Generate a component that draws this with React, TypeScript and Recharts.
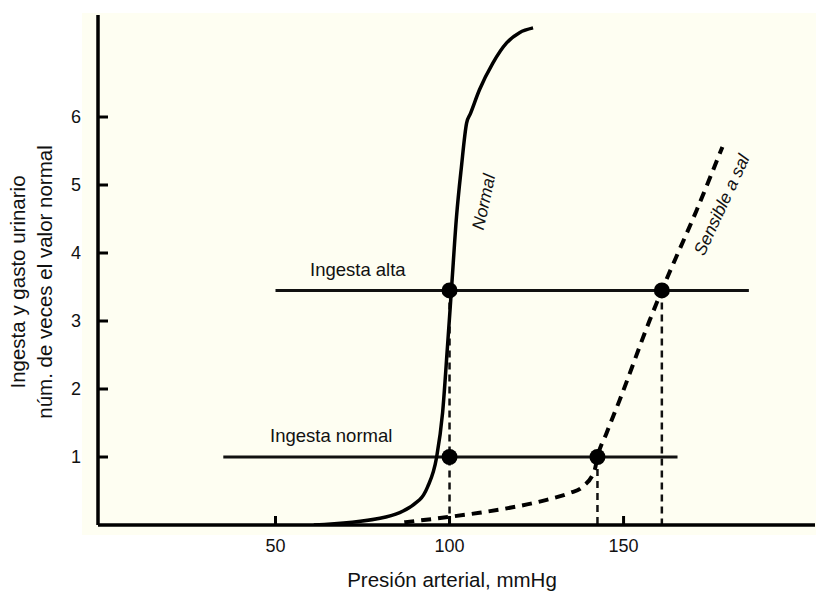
import { LineChart, Line, XAxis, YAxis, Scatter } from 'recharts';

// presión arterial (mmHg) vs ingesta / gasto urinario (veces el normal)
const normalCurve = [
  { x: 61, y: 0 },
  { x: 80, y: 0.1 },
  { x: 91.4, y: 0.37 },
  { x: 93.7, y: 0.56 },
  { x: 96.3, y: 1.0 },
  { x: 98, y: 1.65 },
  { x: 99.4, y: 2.62 },
  { x: 100.6, y: 3.5 },
  { x: 102, y: 4.53 },
  { x: 103.4, y: 5.26 },
  { x: 104.9, y: 5.91 },
  { x: 106, y: 6.05 },
  { x: 108.6, y: 6.4 },
  { x: 112.4, y: 6.79 },
  { x: 116.4, y: 7.09 },
  { x: 120.1, y: 7.24 },
  { x: 124, y: 7.31 },
];

const saltCurve = [
  { x: 87, y: 0.04 },
  { x: 100, y: 0.12 },
  { x: 108.6, y: 0.18 },
  { x: 118.1, y: 0.26 },
  { x: 127.9, y: 0.37 },
  { x: 134.5, y: 0.47 },
  { x: 138.2, y: 0.56 },
  { x: 141.7, y: 0.81 },
  { x: 142.5, y: 1.0 },
  { x: 145.1, y: 1.35 },
  { x: 148.9, y: 1.84 },
  { x: 157.5, y: 3.01 },
  { x: 161, y: 3.45 },
  { x: 171, y: 4.63 },
  { x: 178.4, y: 5.56 },
];

const highIntake = [
  { x: 50, y: 3.45 },
  { x: 186, y: 3.45 },
];

const normalIntake = [
  { x: 35, y: 1 },
  { x: 165.5, y: 1 },
];

const dropNormalHigh = [
  { x: 100, y: 3.45 },
  { x: 100, y: 0 },
];
const dropSaltNormal = [
  { x: 142.5, y: 1 },
  { x: 142.5, y: 0 },
];
const dropSaltHigh = [
  { x: 161, y: 3.45 },
  { x: 161, y: 0 },
];

const equilibriumPoints = [
  { x: 100, y: 3.45 },
  { x: 100, y: 1 },
  { x: 142.5, y: 1 },
  { x: 161, y: 3.45 },
];

const xTicks = [50, 100, 150];
const yTicks = [1, 2, 3, 4, 5, 6];

const font = 'Arial, "Liberation Sans", Helvetica, sans-serif';

const txt = (extra: React.CSSProperties): React.CSSProperties => ({
  position: 'absolute',
  fontFamily: font,
  fontSize: 18.5,
  color: '#111',
  whiteSpace: 'nowrap',
  ...extra,
});

export default function App() {
  return (
    <div style={{ position: 'absolute', left: 0, top: 0, width: 816, height: 594, background: '#fff', overflow: 'hidden' }}>
      <div style={{ position: 'absolute', left: 82, top: 13, width: 734, height: 522, background: '#fefef2' }} />
      <LineChart
        width={816}
        height={594}
        margin={{ top: 15, right: 1, bottom: 39, left: 0 }}
        style={{ position: 'absolute', left: 0, top: 0 }}
      >
        <XAxis
          type="number"
          dataKey="x"
          domain={[-1, 205]}
          ticks={xTicks}
          allowDataOverflow
          height={30}
          stroke="#000"
          axisLine={{ stroke: '#000', strokeWidth: 3.5 }}
          tickLine={{ stroke: '#000', strokeWidth: 3 }}
          tickSize={-9}
          tickMargin={23}
          tick={{ fill: '#111', fontSize: 18, fontFamily: font }}
        />
        <YAxis
          type="number"
          dataKey="y"
          domain={[0, 7.5]}
          ticks={yTicks}
          allowDataOverflow
          width={98}
          axisLine={{ stroke: '#000', strokeWidth: 3.5 }}
          tickLine={{ stroke: '#000', strokeWidth: 3 }}
          tickSize={-10}
          tickMargin={27}
          tick={{ fill: '#111', fontSize: 18, fontFamily: font }}
        />
        <Line data={highIntake} dataKey="y" stroke="#111" strokeWidth={3} dot={false} isAnimationActive={false} />
        <Line data={normalIntake} dataKey="y" stroke="#111" strokeWidth={3} dot={false} isAnimationActive={false} />
        <Line data={dropNormalHigh} dataKey="y" stroke="#111" strokeWidth={2.5} strokeDasharray="7 5" dot={false} isAnimationActive={false} />
        <Line data={dropSaltNormal} dataKey="y" stroke="#111" strokeWidth={2.5} strokeDasharray="7 5" dot={false} isAnimationActive={false} />
        <Line data={dropSaltHigh} dataKey="y" stroke="#111" strokeWidth={2.5} strokeDasharray="7 5" dot={false} isAnimationActive={false} />
        <Line data={normalCurve} dataKey="y" type="monotone" stroke="#000" strokeWidth={3.5} dot={false} isAnimationActive={false} />
        <Line data={saltCurve} dataKey="y" type="monotone" stroke="#000" strokeWidth={4} strokeDasharray="10 7" dot={false} isAnimationActive={false} />
        <Scatter data={equilibriumPoints} dataKey="y" fill="#000" shape={(p: any) => <circle cx={p.cx} cy={p.cy} r={8} fill="#000" />} isAnimationActive={false} />
      </LineChart>

      <div style={txt({ left: 31, top: 282, width: 0, height: 0 })}>
        <div style={{ position: 'absolute', transform: 'translate(-50%, -50%) rotate(-90deg)', left: 0, top: 0, lineHeight: '27px', textAlign: 'center', fontSize: 20.5 }}>
          Ingesta y gasto urinario
          <br />
          núm. de veces el valor normal
        </div>
      </div>
      <div style={txt({ left: 452, top: 580, transform: 'translate(-50%, -50%)', fontSize: 20.5 })}>Presión arterial, mmHg</div>
      <div style={txt({ left: 310, top: 259 })}>Ingesta alta</div>
      <div style={txt({ left: 270, top: 425 })}>Ingesta normal</div>
      <div style={txt({ left: 484, top: 202, transform: 'translate(-50%, -50%) rotate(-78deg)', fontStyle: 'italic', fontSize: 17.5 })}>Normal</div>
      <div style={txt({ left: 722, top: 205, transform: 'translate(-50%, -50%) rotate(-65deg)', fontStyle: 'italic', fontSize: 17.5 })}>Sensible a sal</div>
    </div>
  );
}
